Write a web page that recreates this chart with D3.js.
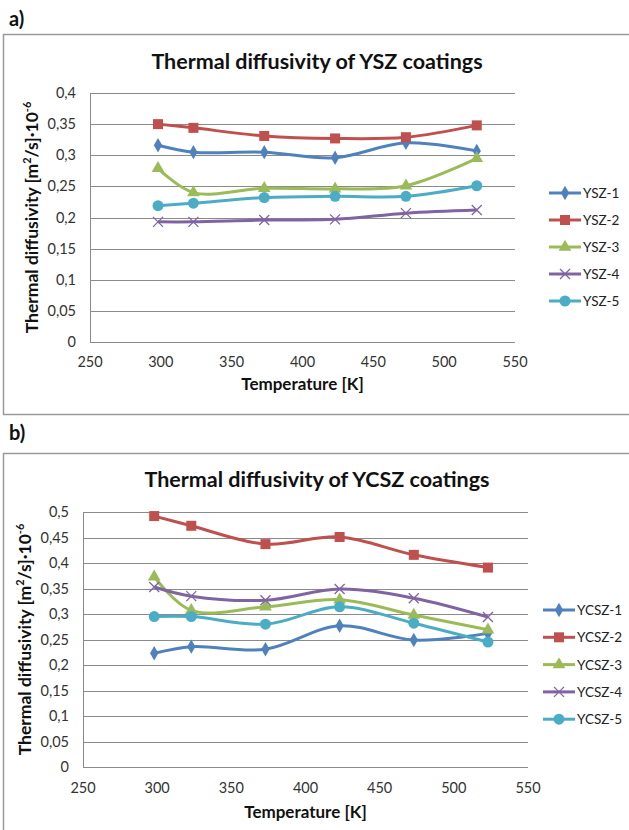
<!DOCTYPE html>
<html>
<head>
<meta charset="utf-8">
<script src="https://cdn.jsdelivr.net/npm/d3@7"></script>
<style>
  body { margin: 0; background: #fff; }
  svg { display: block; font-family: Lato, "Open Sans", sans-serif; }
</style>
</head>
<body>
<div id="chart"></div>
<script>
// Temperatures (K) at which the diffusivity was measured.
const temps = [298, 323, 373, 423, 473, 523];

// a) YSZ coatings, thermal diffusivity [m2/s]*1e-6
const ysz1 = [0.316, 0.305, 0.305, 0.296, 0.320, 0.307];
const ysz2 = [0.350, 0.344, 0.331, 0.327, 0.329, 0.348];
const ysz3 = [0.279, 0.240, 0.247, 0.246, 0.251, 0.295];
const ysz4 = [0.193, 0.193, 0.196, 0.197, 0.207, 0.212];
const ysz5 = [0.219, 0.223, 0.232, 0.234, 0.234, 0.251];

// b) YCSZ coatings
const ycsz1 = [0.223, 0.236, 0.231, 0.277, 0.249, 0.262];
const ycsz2 = [0.492, 0.473, 0.437, 0.451, 0.416, 0.391];
const ycsz3 = [0.373, 0.307, 0.314, 0.328, 0.298, 0.269];
const ycsz4 = [0.353, 0.335, 0.327, 0.349, 0.331, 0.294];
const ycsz5 = [0.295, 0.295, 0.280, 0.314, 0.282, 0.245];

const xTicks = [250, 300, 350, 400, 450, 500, 550];
const colors = ['#4F81BD', '#C0504D', '#9BBB59', '#8064A2', '#4BACC6'];
const markers = ['diamond', 'square', 'triangle', 'cross', 'circle'];

const W = 629, H = 830;
const svg = d3.select('#chart').append('svg').attr('width', W).attr('height', H);

// little helper for the comma decimals (0,35 instead of 0.35)
const commaFmt = (d) => d3.format('.2~f')(d).replace('.', ',');

function drawMarker(g, type, x, y, color) {
  if (type === 'diamond') {
    g.append('path').attr('d', d3.symbol(d3.symbolDiamond, 60)())
      .attr('transform', `translate(${x},${y})`).attr('fill', color);
  } else if (type === 'square') {
    g.append('rect').attr('x', x - 5).attr('y', y - 5).attr('width', 10).attr('height', 10)
      .attr('fill', color);
  } else if (type === 'triangle') {
    g.append('path').attr('d', d3.symbol(d3.symbolTriangle, 70)())
      .attr('transform', `translate(${x},${y})`).attr('fill', color);
  } else if (type === 'cross') {
    g.append('path').attr('d', `M${x - 5},${y - 5}L${x + 5},${y + 5}M${x - 5},${y + 5}L${x + 5},${y - 5}`)
      .attr('stroke', color).attr('stroke-width', 1.3).attr('fill', 'none');
  } else {
    g.append('circle').attr('cx', x).attr('cy', y).attr('r', 5.5).attr('fill', color);
  }
}

function panel(opts) {
  const {letter, letterY, frameTop, frameBottom, title, titleY, plot, yMax, yTitleX,
    xTitleY, tickY, series, names, legend} = opts;

  svg.append('text').attr('x', 9).attr('y', letterY).text(letter)
    .attr('font-size', 20).attr('font-weight', 'bold').attr('fill', '#111');

  svg.append('rect').attr('x', 3.5).attr('y', frameTop).attr('width', W + 5)
    .attr('height', frameBottom - frameTop).attr('fill', '#fff')
    .attr('stroke', '#9a9a9a').attr('stroke-width', 1.5);

  svg.append('text').attr('x', 317).attr('y', titleY).attr('text-anchor', 'middle')
    .attr('font-size', 21.5).attr('font-weight', 'bold').attr('fill', '#111').text(title);

  const x = d3.scaleLinear().domain([250, 550]).range([plot.left, plot.right]);
  const y = d3.scaleLinear().domain([0, yMax]).range([plot.bottom, plot.top]);
  const yTicks = d3.range(0, yMax + 0.001, 0.05);

  const g = svg.append('g');
  // gridlines
  g.selectAll('line.grid').data(yTicks).join('line')
    .attr('x1', plot.left).attr('x2', plot.right)
    .attr('y1', (d) => Math.round(y(d)) + 0.5).attr('y2', (d) => Math.round(y(d)) + 0.5)
    .attr('stroke', '#8a8a8a').attr('stroke-width', 1);
  g.append('line').attr('x1', plot.left + 0.5).attr('x2', plot.left + 0.5)
    .attr('y1', plot.top).attr('y2', plot.bottom).attr('stroke', '#8a8a8a');

  // tick labels
  g.selectAll('text.yt').data(yTicks).join('text')
    .attr('x', plot.left - 14).attr('y', (d) => y(d) + 5)
    .attr('text-anchor', 'end').attr('font-size', 14.5).attr('fill', '#333')
    .text(commaFmt);
  g.selectAll('text.xt').data(xTicks).join('text')
    .attr('x', (d) => x(d)).attr('y', tickY)
    .attr('text-anchor', 'middle').attr('font-size', 14.5).attr('fill', '#333')
    .text((d) => d);

  // axis titles
  g.append('text').attr('x', (plot.left + plot.right) / 2 + 0).attr('y', xTitleY)
    .attr('text-anchor', 'middle').attr('font-size', 17).attr('font-weight', 'bold')
    .attr('fill', '#111').text('Temperature [K]');
  const yt = g.append('text')
    .attr('transform', `translate(${yTitleX},${(plot.top + plot.bottom) / 2}) rotate(-90)`)
    .attr('text-anchor', 'middle').attr('font-size', 17.5).attr('font-weight', 'bold')
    .attr('fill', '#111');
  yt.append('tspan').text('Thermal diffusivity [m');
  yt.append('tspan').attr('font-size', 11).attr('dy', -7).text('2');
  yt.append('tspan').attr('dy', 7).text('/s]\u00b710');
  yt.append('tspan').attr('font-size', 11).attr('dy', -7).text('-6');

  // series
  const line = d3.line().x((d, i) => x(temps[i])).y((d) => y(d))
    .curve(d3.curveCatmullRom.alpha(0.5));
  series.forEach((vals, k) => {
    g.append('path').attr('d', line(vals)).attr('fill', 'none')
      .attr('stroke', colors[k]).attr('stroke-width', 3);
  });
  series.forEach((vals, k) => {
    vals.forEach((v, i) => drawMarker(g, markers[k], x(temps[i]), y(v), colors[k]));
  });

  // legend
  names.forEach((name, k) => {
    const ly = legend.y + k * legend.step;
    g.append('line').attr('x1', legend.x).attr('x2', legend.x + 32)
      .attr('y1', ly).attr('y2', ly).attr('stroke', colors[k]).attr('stroke-width', 3);
    drawMarker(g, markers[k], legend.x + 16, ly, colors[k]);
    g.append('text').attr('x', legend.x + 34).attr('y', ly + 5)
      .attr('font-size', 13.5).attr('fill', '#222').text(name);
  });
}

panel({
  letter: 'a)', letterY: 26, frameTop: 34.5, frameBottom: 414.5,
  title: 'Thermal diffusivity  of YSZ coatings', titleY: 69,
  plot: {left: 90, right: 515, top: 93, bottom: 342}, yMax: 0.4, yTitleX: 38,
  xTitleY: 390, tickY: 367,
  series: [ysz1, ysz2, ysz3, ysz4, ysz5],
  names: ['YSZ-1', 'YSZ-2', 'YSZ-3', 'YSZ-4', 'YSZ-5'],
  legend: {x: 549, y: 193, step: 27},
});

panel({
  letter: 'b)', letterY: 440, frameTop: 453.5, frameBottom: 840,
  title: 'Thermal diffusivity  of YCSZ coatings', titleY: 487,
  plot: {left: 83, right: 528, top: 512, bottom: 767}, yMax: 0.5, yTitleX: 31,
  xTitleY: 818, tickY: 793,
  series: [ycsz1, ycsz2, ycsz3, ycsz4, ycsz5],
  names: ['YCSZ-1', 'YCSZ-2', 'YCSZ-3', 'YCSZ-4', 'YCSZ-5'],
  legend: {x: 543, y: 610, step: 27.3},
});
</script>
</body>
</html>
